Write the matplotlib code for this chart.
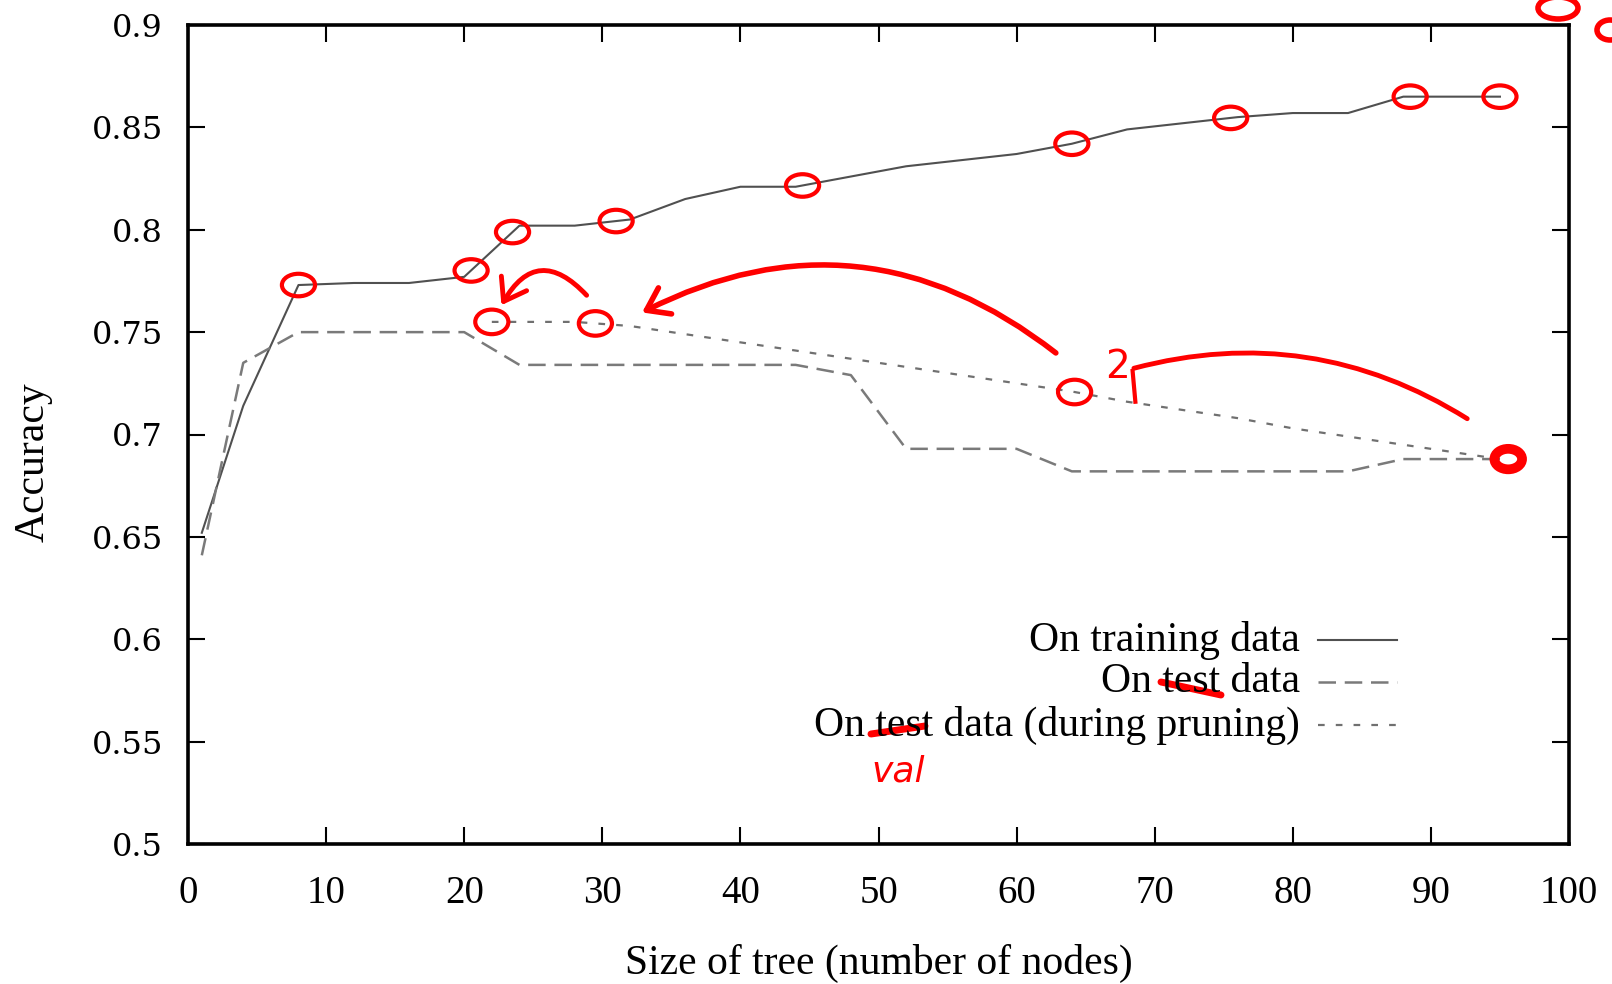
import numpy as np
import matplotlib
matplotlib.use('Agg')
import matplotlib.pyplot as plt
from matplotlib.patches import Ellipse, FancyArrowPatch
from matplotlib.lines import Line2D

plt.rcParams['font.family'] = ['Liberation Serif', 'DejaVu Serif']

# accuracy vs. tree size
train_nodes = [1, 4, 8, 12, 16, 20, 24, 28, 32, 36, 40, 44, 48, 52, 56, 60, 64, 68, 72, 76, 80, 84, 88, 92, 95]
train_acc = [0.652, 0.714, 0.773, 0.774, 0.774, 0.777, 0.802, 0.802, 0.805, 0.815, 0.821, 0.821, 0.826,
             0.831, 0.834, 0.837, 0.842, 0.849, 0.852, 0.855, 0.857, 0.857, 0.865, 0.865, 0.865]

test_nodes = [1, 4, 8, 12, 16, 20, 24, 28, 32, 36, 40, 44, 48, 52, 56, 60, 64, 68, 72, 76, 80, 84, 88, 92, 95]
test_acc = [0.641, 0.735, 0.750, 0.750, 0.750, 0.750, 0.734, 0.734, 0.734, 0.734, 0.734, 0.734, 0.729,
            0.693, 0.693, 0.693, 0.682, 0.682, 0.682, 0.682, 0.682, 0.682, 0.688, 0.688, 0.688]

prune_nodes = [22, 28, 32, 36, 40, 44, 48, 52, 56, 60, 64, 68, 72, 76, 80, 84, 88, 92, 95]
prune_acc = [0.755, 0.755, 0.753, 0.749, 0.745, 0.741, 0.737, 0.733, 0.729, 0.725, 0.721, 0.716,
             0.712, 0.708, 0.703, 0.699, 0.695, 0.691, 0.688]

series_labels = ['On training data', 'On test data', 'On test data (during pruning)']

x_ticks = [0, 10, 20, 30, 40, 50, 60, 70, 80, 90, 100]
y_ticks = [0.5, 0.55, 0.6, 0.65, 0.7, 0.75, 0.8, 0.85, 0.9]
y_tick_labels = ['0.5', '0.55', '0.6', '0.65', '0.7', '0.75', '0.8', '0.85', '0.9']

# hand-drawn red marks (node positions that were circled)
train_circled = [8, 20.5, 23.5, 31, 44.5, 64, 75.5, 88.5, 95]
prune_circled = [22, 29.5, 64.2]

W, H = 1612, 984
fig = plt.figure(figsize=(W / 100, H / 100), dpi=100)
ax = fig.add_axes([188 / W, 1 - 844 / H, 1381 / W, 819 / H])

ax.plot(train_nodes, train_acc, color='#505050', lw=1.5, solid_joinstyle='round')
ax.plot(test_nodes, test_acc, color='#7a7a7a', lw=1.8, dashes=(7, 3.5))
ax.plot(prune_nodes, prune_acc, color='#707070', lw=1.6, dashes=(3, 5))

ax.set_xlim(0, 100)
ax.set_ylim(0.5, 0.9)
ax.set_xticks(x_ticks)
ax.set_yticks(y_ticks)
ax.set_yticklabels(y_tick_labels, family='DejaVu Serif')
ax.tick_params(axis='both', direction='in', length=12, width=1.5, top=True, right=True, colors='black')
ax.tick_params(axis='y', labelsize=23, pad=18)
ax.tick_params(axis='x', labelsize=28, pad=22)
for sp in ax.spines.values():
    sp.set_linewidth(2.6)

ax.set_xlabel('Size of tree (number of nodes)', fontsize=30, va='center')
ax.xaxis.set_label_coords(0.5, (844 - 963) / 819)
ax.set_ylabel('Accuracy', fontsize=30, va='center')
ax.yaxis.set_label_coords((33 - 188) / 1381, (844 - 462) / 819)

# key: text on the left, sample on the right (gnuplot style)
key_rows = [640, 682, 725]
key_styles = [dict(color='#505050', lw=1.5),
              dict(color='#7a7a7a', lw=1.8, dashes=(7, 3.5)),
              dict(color='#707070', lw=1.6, dashes=(3, 5))]
for lab, yr, st in zip(series_labels, key_rows, key_styles):
    fig.text(1300 / W, 1 - yr / H, lab, ha='right', va='center', fontsize=30)
    fig.add_artist(Line2D([1318 / W, 1397 / W], [1 - yr / H, 1 - yr / H],
                          transform=fig.transFigure, **st))

# red annotations
red = '#ff0000'
for xc in train_circled:
    yc = np.interp(xc, train_nodes, train_acc)
    ax.add_patch(Ellipse((xc, yc), 2.4, 0.011, fill=False, ec=red, lw=3, zorder=5))
for xc in prune_circled:
    yc = np.interp(xc, prune_nodes, prune_acc)
    ax.add_patch(Ellipse((xc, yc), 2.4, 0.012, fill=False, ec=red, lw=3, zorder=5))
ax.add_patch(Ellipse((prune_nodes[-1] + 0.6, prune_acc[-1]), 2.0, 0.01, fill=False, ec=red, lw=7, zorder=5))

ax.add_patch(FancyArrowPatch((29.0, 0.767), (22.6, 0.762), connectionstyle='arc3,rad=0.7',
                             arrowstyle='->,head_length=0.5,head_width=0.35', mutation_scale=30,
                             color=red, lw=3.5, zorder=5))
ax.add_patch(FancyArrowPatch((63.0, 0.739), (32.7, 0.759), connectionstyle='arc3,rad=0.32',
                             arrowstyle='->,head_length=0.5,head_width=0.35', mutation_scale=30,
                             color=red, lw=4, zorder=5))
ax.add_patch(FancyArrowPatch((92.8, 0.707), (68.3, 0.732), connectionstyle='arc3,rad=0.22',
                             arrowstyle='-', color=red, lw=3.5, zorder=5))
ax.plot([68.4, 68.6], [0.731, 0.716], color=red, lw=3, zorder=5)
ax.text(67.3, 0.733, '2', color=red, fontsize=28, ha='center', va='center',
        family='DejaVu Sans', zorder=5)

# strike-through of "test" in the key and replacement word
fig.add_artist(Line2D([1161 / W, 1221 / W], [1 - 682 / H, 1 - 695 / H], transform=fig.transFigure,
                      color=red, lw=5, solid_capstyle='round'))
fig.add_artist(Line2D([871 / W, 925 / W], [1 - 734 / H, 1 - 726 / H], transform=fig.transFigure,
                      color=red, lw=5, solid_capstyle='round'))
fig.text(898 / W, 1 - 772 / H, 'val', color=red, fontsize=26, ha='center', va='center',
         family='DejaVu Sans', style='italic')

# scribble cut off at the top-right corner
fig.add_artist(Ellipse((1558 / W, 1 - 8 / H), 40 / W, 22 / H, transform=fig.transFigure,
                       fill=False, ec=red, lw=4))
fig.add_artist(Ellipse((1610 / W, 1 - 30 / H), 26 / W, 20 / H, transform=fig.transFigure,
                       fill=False, ec=red, lw=4))

fig.savefig('out.png', dpi=100)
